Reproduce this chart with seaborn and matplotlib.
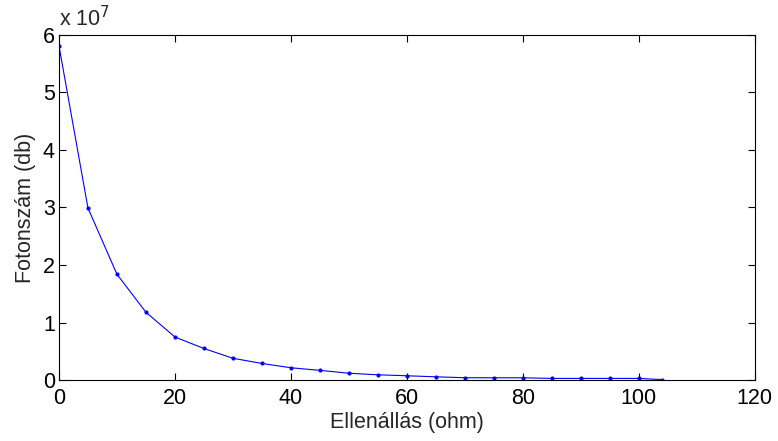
import matplotlib
matplotlib.use("Agg")
import matplotlib.pyplot as plt
import seaborn as sns
import pandas as pd
from matplotlib.ticker import FuncFormatter, MultipleLocator

# Data
resistance_ohm = [0, 5, 10, 15, 20, 25, 30, 35, 40, 45, 50, 55, 60, 65, 70,
                  75, 80, 85, 90, 95, 100, 104]
photon_count = [5.81e7, 2.99e7, 1.84e7, 1.18e7, 0.75e7, 0.55e7, 0.38e7, 0.29e7,
                0.215e7, 0.17e7, 0.12e7, 0.093e7, 0.076e7, 0.058e7, 0.042e7,
                0.041e7, 0.041e7, 0.03e7, 0.03e7, 0.03e7, 0.03e7, 0.01e7]
x_label = "Ellenállás (ohm)"
y_label = "Fotonszám (db)"

df = pd.DataFrame({"x": resistance_ohm, "y": photon_count})

sns.set_style("white")
plt.rcParams["font.family"] = ["Liberation Sans", "DejaVu Sans"]

FS = 15.5
fig = plt.figure(figsize=(7.78, 4.41), dpi=100)
ax = fig.add_axes([0.0758, 0.138, 0.8942, 0.783])

sns.lineplot(data=df, x="x", y="y", ax=ax, color=(0, 0, 1), linewidth=0.8,
             marker="o", markersize=3, markeredgewidth=0, estimator=None)

ax.set_xlim(0, 120)
ax.set_ylim(0, 6e7)
ax.xaxis.set_major_locator(MultipleLocator(20))
ax.yaxis.set_major_locator(MultipleLocator(1e7))
ax.yaxis.set_major_formatter(FuncFormatter(lambda v, p: f"{v/1e7:g}"))

ax.tick_params(direction="in", length=5, width=0.8, labelsize=FS,
               top=True, right=True, bottom=True, left=True, colors="black")
ax.tick_params(axis="x", pad=5.5)
ax.tick_params(axis="y", pad=3)
for s in ax.spines.values():
    s.set_visible(True)
    s.set_color("black")
    s.set_linewidth(0.8)

ax.set_xlabel(x_label, fontsize=FS, labelpad=2)
ax.set_ylabel(y_label, fontsize=FS, labelpad=5)
ax.text(0.0, 1.01, "x 10$^{7}$", transform=ax.transAxes, fontsize=FS,
        ha="left", va="bottom")

fig.savefig("out.png", dpi=100, facecolor="white")
